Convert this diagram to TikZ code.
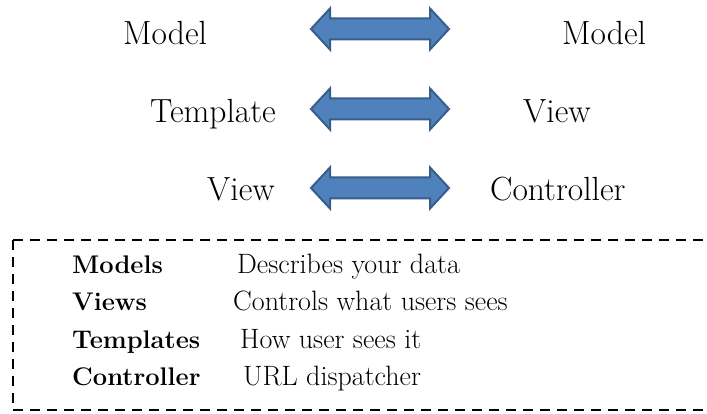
\documentclass[tikz,border=0pt]{standalone}
\usepackage{fontspec}
\definecolor{arrowfill}{RGB}{79,129,189}
\definecolor{arrowedge}{RGB}{56,93,138}
\begin{document}
\begin{tikzpicture}[x=1pt,y=-1pt,
  lbl/.style={font=\fontsize{33.5}{38}\selectfont, anchor=base west, inner sep=0pt},
  key/.style={font=\fontsize{25.5}{30}\selectfont\bfseries, anchor=base west, inner sep=0pt},
  desc/.style={font=\fontsize{28}{32}\selectfont, anchor=base west, inner sep=0pt},
  dblarrow/.style={draw=arrowedge, fill=arrowfill, line width=2pt, line join=miter},
  legendbox/.style={draw=black, line width=1.5pt, dash pattern=on 10pt off 7pt},
  dbl/.pic={\path[dblarrow] (-69,0) -- (-50,-20.5) -- (-50,-10.5) -- (50,-10.5) -- (50,-20.5) -- (69,0) -- (50,20.5) -- (50,10.5) -- (-50,10.5) -- (-50,20.5) -- cycle;}]
\useasboundingbox (0,0) rectangle (707,414);

% top rows
\node[lbl] (l1) at (123,45) {Model};
\node[lbl] (r1) at (562,45) {Model};
\node[lbl] (l2) at (150,123) {Template};
\node[lbl] (r2) at (523,123) {View};
\node[lbl] (l3) at (207,201) {View};
\node[lbl] (r3) at (490,201) {Controller};

\coordinate (a1) at (380,29);
\coordinate (a2) at (380,109);
\coordinate (a3) at (380,188);
\pic at (a1) {dbl};
\pic at (a2) {dbl};
\pic at (a3) {dbl};

% legend box
\coordinate (bTL) at (13,240);
\coordinate (bTR) at (707,240);
\coordinate (bBL) at (13,410);
\coordinate (bBR) at (707,410);
\draw[legendbox] (bTL) -- (bTR);
\draw[legendbox] (bTL) -- (bBL) -- (bBR);

\node[key] (k1) at (72,273) {Models};
\node[key] (k2) at (72,310) {Views};
\node[key] (k3) at (72,348) {Templates};
\node[key] (k4) at (72,385) {Controller};
\node[desc] (d1) at (237,273) {Describes your data};
\node[desc] (d2) at (233,310) {Controls what users sees};
\node[desc] (d3) at (240,348) {How user sees it};
\node[desc] (d4) at (243,385) {URL dispatcher};
\end{tikzpicture}
\end{document}
